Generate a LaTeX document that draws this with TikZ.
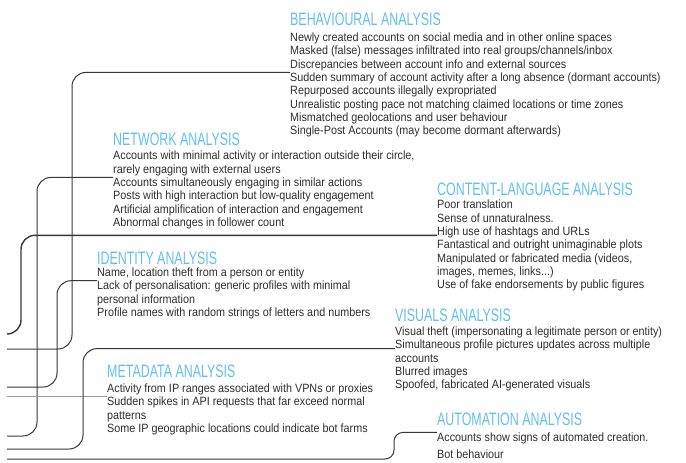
\documentclass[tikz,border=0pt]{standalone}
\usepackage{fontspec}
\usepackage{tikz}

\newfontfamily\headfont[FakeStretch=0.69]{Liberation Sans}
\newfontfamily\itemfont[FakeStretch=0.9]{Liberation Sans}

\definecolor{headblue}{RGB}{96,192,236}
\definecolor{textgrey}{RGB}{45,45,45}
\definecolor{linegrey}{RGB}{55,55,55}

\begin{document}
\begin{tikzpicture}[x=1pt,y=-1pt,
        head/.style={anchor=base west,inner sep=0pt,text=headblue,font={\headfont\fontsize{18}{18}\selectfont}},
        entry/.style={anchor=base west,inner sep=0pt,text=textgrey,font={\itemfont\fontsize{12}{13}\selectfont}},
        link/.style={draw=linegrey,line width=1pt,rounded corners=14pt}]

    \useasboundingbox (0,0) rectangle (686,463);

    % behavioural
    \node[head] (behT) at (290,25) {BEHAVIOURAL ANALYSIS};
    \node[entry] (beh1) at (290,41.3) {Newly created accounts on social media and in other online spaces};
    \node[entry] (beh2) at (290,54.6) {Masked (false) messages infiltrated into real groups/channels/inbox};
    \node[entry] (beh3) at (290,68) {Discrepancies between account info and external sources};
    \node[entry] (beh4) at (290,81.3) {Sudden summary of account activity after a long absence (dormant accounts)};
    \node[entry] (beh5) at (290,94.6) {Repurposed accounts illegally expropriated};
    \node[entry] (beh6) at (290,108) {Unrealistic posting pace not matching claimed locations or time zones};
    \node[entry] (beh7) at (290,121.3) {Mismatched geolocations and user behaviour};
    \node[entry] (beh8) at (290,134.6) {Single-Post Accounts (may become dormant afterwards)};

    % network
    \node[head] (netT) at (113,145) {NETWORK ANALYSIS};
    \node[entry] (net1) at (113,159.7) {Accounts with minimal activity or interaction outside their circle,};
    \node[entry] (net2) at (113,173) {rarely engaging with external users};
    \node[entry] (net3) at (113,186.3) {Accounts simultaneously engaging in similar actions};
    \node[entry] (net4) at (113,199.7) {Posts with high interaction but low-quality engagement};
    \node[entry] (net5) at (113,213) {Artificial amplification of interaction and engagement};
    \node[entry] (net6) at (113,226.3) {Abnormal changes in follower count};

    % content-language
    \node[head] (conT) at (437,195) {CONTENT-LANGUAGE ANALYSIS};
    \node[entry] (con1) at (437,208.7) {Poor translation};
    \node[entry] (con2) at (437,222) {Sense of unnaturalness.};
    \node[entry] (con3) at (437,235.3) {High use of hashtags and URLs};
    \node[entry] (con4) at (437,248.7) {Fantastical and outright unimaginable plots};
    \node[entry] (con5) at (437,262) {Manipulated or fabricated media (videos,};
    \node[entry] (con6) at (437,275.3) {images, memes, links...)};
    \node[entry] (con7) at (437,288.7) {Use of fake endorsements by public figures};

    % identity
    \node[head] (ideT) at (97,264) {IDENTITY ANALYSIS};
    \node[entry] (ide1) at (97,276.3) {Name, location theft from a person or entity};
    \node[entry] (ide2) at (97,289.6) {Lack of personalisation: generic profiles with minimal};
    \node[entry] (ide3) at (97,303) {personal information};
    \node[entry] (ide4) at (97,316.3) {Profile names with random strings of letters and numbers};

    % metadata
    \node[head] (metT) at (107,377) {METADATA ANALYSIS};
    \node[entry] (met1) at (107,392.3) {Activity from IP ranges associated with VPNs or proxies};
    \node[entry] (met2) at (107,405.6) {Sudden spikes in API requests that far exceed normal};
    \node[entry] (met3) at (107,419) {patterns};
    \node[entry] (met4) at (107,432.3) {Some IP geographic locations could indicate bot farms};

    % visuals
    \node[head] (visT) at (395,321) {VISUALS ANALYSIS};
    \node[entry] (vis1) at (395,335.3) {Visual theft (impersonating a legitimate person or entity)};
    \node[entry] (vis2) at (395,348.6) {Simultaneous profile pictures updates across multiple};
    \node[entry] (vis3) at (395,362) {accounts};
    \node[entry] (vis4) at (395,375.3) {Blurred images};
    \node[entry] (vis5) at (395,388.6) {Spoofed, fabricated AI-generated visuals};

    % automation
    \node[head] (autT) at (437,425) {AUTOMATION ANALYSIS};
    \node[entry] (aut1) at (437,441.3) {Accounts show signs of automated creation.};
    \node[entry] (aut2) at (437,458) {Bot behaviour};

    % loose ends on the left
    \coordinate (inA) at (7,349);
    \coordinate (inB) at (7,436);
    \coordinate (inC) at (7,334);
    \coordinate (inD) at (7,387);
    \coordinate (inE) at (7,399);
    \coordinate (inF) at (7,449);
    \coordinate (inG) at (7,459);

    \draw[link] (beh4.north west) -| (72,349) -- (inA);
    \draw[link] (net3.north west) -| (37,436) -- (inB);
    \draw[link,line width=1.4pt] (con3.base west) -| (21,334) -- (inC);
    \draw[link] (ide2.north west) -| (57,387) -- (inD);
    \draw[link,draw=gray!80] (met2.north west) -- (inE |- met2.north west);
    \draw[link] (vis2.base west) -| (83,449) -- (inF);
    \draw[link,rounded corners=9pt] (aut1.north west) -| (394,459) -- (inG);

\end{tikzpicture}
\end{document}
